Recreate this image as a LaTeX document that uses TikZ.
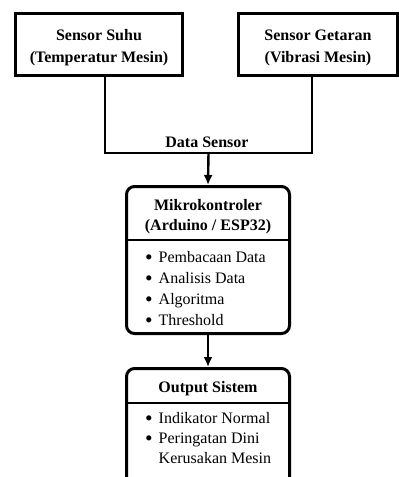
\documentclass[tikz,border=0pt]{standalone}
\usepackage{fontspec}
\usepackage{graphicx}
\setmainfont{Liberation Serif}
\usetikzlibrary{arrows.meta}
\newcommand{\bul}{\makebox[14pt][l]{\hspace{0.5pt}\raisebox{-2.6pt}{\scalebox{1.35}{\textbullet}}}}
\begin{document}
\begin{tikzpicture}[x=1pt,y=-1pt,
  sq/.style={draw=black,line width=3pt,rectangle,inner sep=0pt},
  rbox/.style={draw=black,line width=3pt,rectangle,rounded corners=8pt,inner sep=0pt},
  ttl/.style={font=\fontsize{16}{18}\bfseries\selectfont,anchor=base,inner sep=0pt},
  itm/.style={font=\fontsize{16}{18}\selectfont,anchor=base west,inner sep=0pt},
  conn/.style={line width=2.8pt},
  arr/.style={line width=2.4pt,-{Latex[length=10pt,width=9pt]}}]
\useasboundingbox (0,0) rectangle (399,477);
\clip (0,0) rectangle (399,477);
% sensor boxes
\node[sq,minimum width=167pt,minimum height=62pt] (s1) at (99,44.5) {};
\node[sq,minimum width=159pt,minimum height=62pt] (s2) at (318,44.5) {};
\node[ttl] (s1a) at (99,40) {Sensor Suhu};
\node[ttl] (s1b) at (99,62) {(Temperatur Mesin)};
\node[ttl] (s2a) at (318,40) {Sensor Getaran};
\node[ttl] (s2b) at (318,62) {(Vibrasi Mesin)};
% microcontroller box
\node[rbox,minimum width=163pt,minimum height=147pt] (mc) at (208,260) {};
\node[ttl] (mca) at (208,210) {Mikrokontroler};
\node[ttl] (mcb) at (208,230) {(Arduino / ESP32)};
\coordinate (mcl) at (126.5,240);
\coordinate (mcr) at (289.5,240);
\draw[line width=2.8pt] (mcl) -- (mcr);
\node[itm] (m1) at (144.5,262) {\bul Pembacaan Data};
\node[itm] (m2) at (144.5,283) {\bul Analisis Data};
\node[itm] (m3) at (144.5,304) {\bul Algoritma};
\node[itm] (m4) at (144.5,325) {\bul Threshold};
% output box
\node[rbox,minimum width=163pt,minimum height=130pt] (out) at (208,433.5) {};
\node[ttl] (outa) at (208,392) {Output Sistem};
\coordinate (ol) at (126.5,403);
\coordinate (or) at (289.5,403);
\draw[line width=2.8pt] (ol) -- (or);
\node[itm] (o1) at (144.5,423) {\bul Indikator Normal};
\node[itm] (o2) at (144.5,443) {\bul Peringatan Dini};
\node[itm] (o3) at (144.5,463) {\phantom{\bul}Kerusakan Mesin};
% connectors
\coordinate (j) at (208.5,153);
\draw[conn] ([xshift=6pt]s1.south) |- (j) -| ([xshift=-6pt]s2.south);
\node[ttl] (ds) at (207,147) {Data Sensor};
\draw[arr] (j) -- (mc.north);
\draw[arr] (mc.south) -- (out.north);
\end{tikzpicture}
\end{document}
